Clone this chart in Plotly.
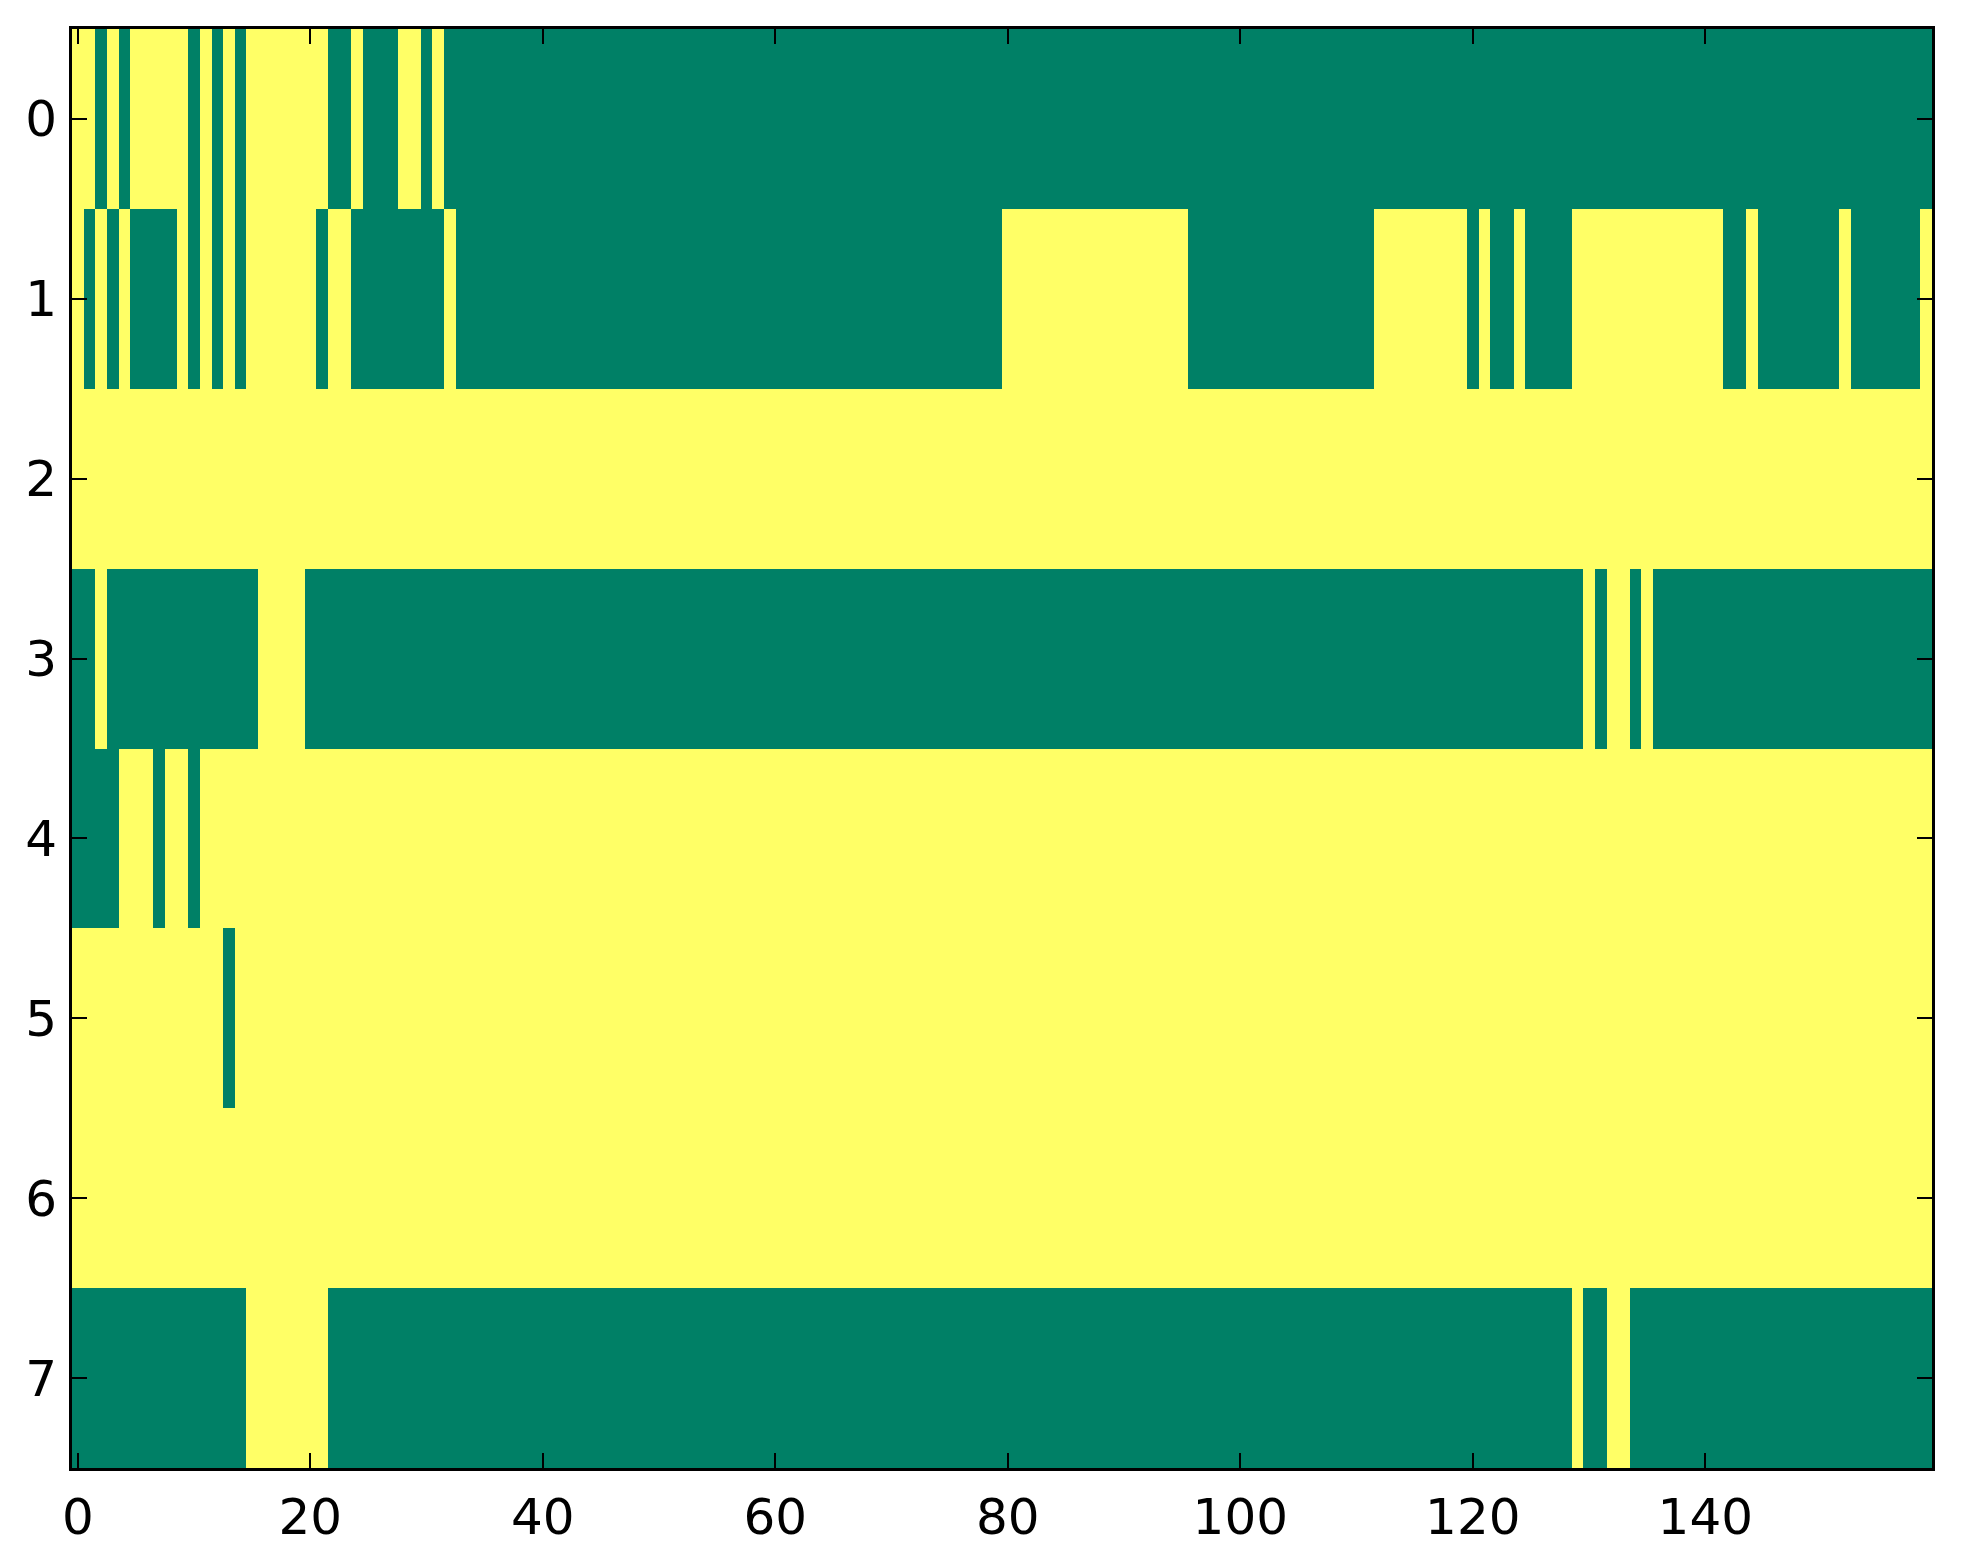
"""
Binary state map: 8 channels x 160 steps, drawn as a two-colour heatmap
(matplotlib 'summer' endpoints, classic framed axes).
"""

import plotly.graph_objects as go

# each row is stored as runs of (value, length); 1 = yellow, 0 = green
row0_runs = [(1, 2), (0, 1), (1, 1), (0, 1), (1, 5), (0, 1), (1, 1), (0, 1), (1, 1), (0, 1),
             (1, 7), (0, 2), (1, 1), (0, 3), (1, 2), (0, 1), (1, 1), (0, 128)]
row1_runs = [(1, 1), (0, 1), (1, 1), (0, 1), (1, 1), (0, 4), (1, 1), (0, 1), (1, 1), (0, 1),
             (1, 1), (0, 1), (1, 6), (0, 1), (1, 2), (0, 8), (1, 1), (0, 47), (1, 16), (0, 16),
             (1, 8), (0, 1), (1, 1), (0, 2), (1, 1), (0, 4), (1, 13), (0, 2), (1, 1), (0, 7),
             (1, 1), (0, 6), (1, 1)]
row2_runs = [(1, 160)]
row3_runs = [(0, 2), (1, 1), (0, 13), (1, 4), (0, 110), (1, 1), (0, 1), (1, 2), (0, 1), (1, 1),
             (0, 24)]
row4_runs = [(0, 4), (1, 3), (0, 1), (1, 2), (0, 1), (1, 149)]
row5_runs = [(1, 13), (0, 1), (1, 146)]
row6_runs = [(1, 160)]
row7_runs = [(0, 15), (1, 7), (0, 107), (1, 1), (0, 2), (1, 2), (0, 26)]

rows = [row0_runs, row1_runs, row2_runs, row3_runs, row4_runs, row5_runs, row6_runs, row7_runs]
x_ticks = [0, 20, 40, 60, 80, 100, 120, 140]
y_ticks = [0, 1, 2, 3, 4, 5, 6, 7]

GREEN = "rgb(0,128,102)"
YELLOW = "rgb(255,255,102)"


def expand(runs):
    out = []
    for value, length in runs:
        out.extend([value] * length)
    return out


z = [expand(r) for r in rows]
n_cols = len(z[0])

fig = go.Figure(
    go.Heatmap(
        z=z,
        x=list(range(n_cols)),
        y=y_ticks,
        zmin=0,
        zmax=1,
        colorscale=[[0, GREEN], [0.5, GREEN], [0.5, YELLOW], [1, YELLOW]],
        showscale=False,
        hoverinfo="skip",
    )
)

axis_style = dict(
    showline=True,
    linecolor="black",
    linewidth=3,
    mirror="ticks",
    ticks="inside",
    ticklen=15,
    tickwidth=2,
    tickcolor="black",
    showgrid=False,
    zeroline=False,
    tickfont=dict(family="DejaVu Sans", size=50, color="black"),
)

fig.update_xaxes(
    range=[-0.5, n_cols - 0.5],
    tickvals=x_ticks,
    ticklabelstandoff=3,
    **axis_style,
)
fig.update_yaxes(
    range=[len(rows) - 0.5, -0.5],
    tickvals=y_ticks,
    ticklabelstandoff=2,
    **axis_style,
)

# page body adds an 8px offset, so margins are shifted to compensate
fig.update_layout(
    width=1963,
    height=1564,
    margin=dict(l=64, r=39, t=21, b=104),
    paper_bgcolor="white",
    plot_bgcolor="white",
)

fig.write_html("out.html")
